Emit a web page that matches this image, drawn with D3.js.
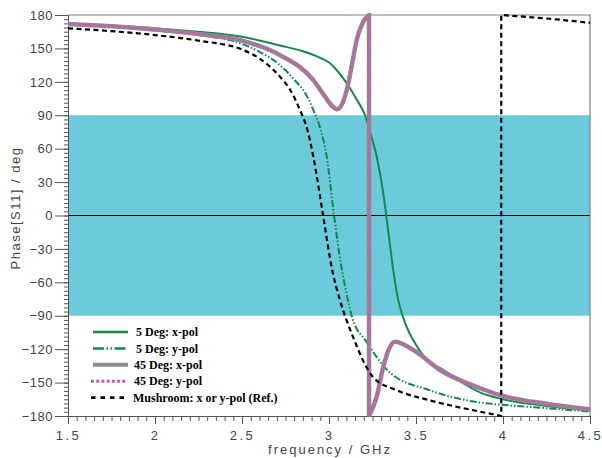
<!DOCTYPE html>
<html>
<head>
<meta charset="utf-8">
<script src="https://cdn.jsdelivr.net/npm/d3@7"></script>
<style>
  body { margin: 0; background: #fff; }
  .tick text { font-family: "Liberation Sans", sans-serif; font-size: 13px; fill: #444; }
  .legend text { font-family: "Liberation Serif", serif; font-size: 12px; font-weight: bold; fill: #000; }
</style>
</head>
<body>
<svg width="602" height="458"></svg>
<script>
// 5 Deg: x-pol
var fX5 = [1.5, 1.75, 2.0, 2.25, 2.5, 2.718, 2.85, 2.95, 3.006, 3.05, 3.102, 3.16, 3.207, 3.24, 3.274, 3.309, 3.347, 3.37, 3.398, 3.425, 3.52, 3.68, 3.87, 4.0, 4.25, 4.5];
var vX5 = [172, 170.5, 168, 165, 160.5, 152.6, 147.5, 141.5, 136.6, 129.5, 118.7, 104, 90, 73, 53, 23, -22, -50, -76, -91, -121, -141, -159, -165, -171, -175];
// 5 Deg: y-pol
var fY5 = [1.5, 1.75, 2.0, 2.25, 2.5, 2.6, 2.718, 2.8, 2.87, 2.91, 2.95, 2.987, 3.029, 3.07, 3.109, 3.13, 3.218, 3.35, 3.58, 3.87, 4.0, 4.25, 4.5];
var vY5 = [172, 169.5, 166, 162, 154, 147, 135, 122, 108, 94.7, 78, 52.8, 0, -45, -76, -90, -114, -141, -157, -168, -170, -173, -176];
// 45 Deg: x-pol and y-pol (same curve)
var f45 = [1.5, 1.75, 2.0, 2.25, 2.5, 2.718, 2.91, 2.98, 3.02, 3.046, 3.075, 3.102, 3.13, 3.159, 3.197, 3.23, 3.23, 3.274, 3.312, 3.351, 3.379, 3.485, 3.638, 3.868, 4.0, 4.25, 4.5];
var v45 = [172, 170, 167, 163, 157, 144, 121.6, 106, 98, 95.3, 100, 112.7, 133.6, 157.6, 174, 180, -180, -162.7, -135.8, -117.8, -113.3, -120.8, -138.7, -155.1, -162, -169, -174];
// Mushroom: x or y-pol (Ref.)
var fM = [1.5, 1.75, 2.0, 2.25, 2.5, 2.6, 2.718, 2.78, 2.833, 2.87, 2.91, 2.966, 3.02, 3.063, 3.138, 3.253, 3.391, 3.58, 3.868, 3.99, 3.99, 4.12, 4.31, 4.5];
var vM = [168, 165.5, 162, 157, 149, 141, 124.6, 112, 94.7, 80, 52.8, 0, -50, -76, -109, -145, -157, -166, -176.1, -180, 180, 178.5, 176, 173];

var xTicks = [1.5, 2, 2.5, 3, 3.5, 4, 4.5];
var yTicks = [-180, -150, -120, -90, -60, -30, 0, 30, 60, 90, 120, 150, 180];
var legendLabels = ["5 Deg: x-pol", "5 Deg: y-pol", "45 Deg: x-pol", "45 Deg: y-pol", "Mushroom: x or y-pol (Ref.)"];

var svg = d3.select("svg");
var pLeft = 68, pRight = 590, pTop = 15, pBottom = 416;

var x = d3.scaleLinear().domain([1.5, 4.5]).range([pLeft, pRight]);
var y = d3.scaleLinear().domain([-180, 180]).range([pBottom, pTop]);

svg.append("clipPath").attr("id", "plot")
  .append("rect").attr("x", pLeft).attr("y", pTop - 2).attr("width", pRight - pLeft).attr("height", pBottom - pTop + 4);

// cyan band -90..90
svg.append("rect")
    .attr("x", pLeft).attr("width", pRight - pLeft)
    .attr("y", y(90)).attr("height", y(-90) - y(90))
    .style("fill", "#6ccadb");

svg.append("line")
    .attr("x1", pLeft).attr("x2", pRight).attr("y1", y(0)).attr("y2", y(0))
    .style("stroke", "#000").style("stroke-width", 1);

// frame top / right
svg.append("path")
    .attr("d", "M" + pLeft + "," + pTop + "H" + pRight + "V" + pBottom)
    .style("fill", "none").style("stroke", "#808080").style("stroke-width", 1.2);

// axes
function styleAxis(g) {
  g.selectAll(".domain").style("stroke", "#555");
  g.selectAll(".tick line").style("stroke", "#555");
}
svg.append("g").attr("transform", "translate(0," + pBottom + ")")
    .call(d3.axisBottom(x).tickValues(d3.range(1.5, 4.5001, 0.05)).tickSize(5).tickFormat(""))
    .call(styleAxis);
svg.append("g").attr("transform", "translate(0," + pBottom + ")")
    .call(d3.axisBottom(x).tickValues(xTicks).tickSize(8).tickSizeOuter(0).tickPadding(7)
      .tickFormat(function(d) { return d3.format("")(d); }))
    .call(styleAxis)
    .selectAll("text").style("letter-spacing", "2.5px");
svg.append("g").attr("transform", "translate(" + pLeft + ",0)")
    .call(d3.axisLeft(y).tickValues(d3.range(-180, 180.001, 3.75)).tickSize(4).tickFormat(""))
    .call(styleAxis);
svg.append("g").attr("transform", "translate(" + pLeft + ",0)")
    .call(d3.axisLeft(y).tickValues(yTicks).tickSize(13).tickSizeOuter(0).tickPadding(2))
    .call(styleAxis)
    .selectAll("text").style("letter-spacing", "0.5px");

svg.append("text")
    .attr("x", 330).attr("y", 454)
    .attr("text-anchor", "middle")
    .style("font-family", "Liberation Sans, sans-serif").style("font-size", "13px")
    .style("letter-spacing", "2px").style("fill", "#444")
    .text("frequency / GHz");
svg.append("text")
    .attr("transform", "translate(20,208) rotate(-90)")
    .attr("text-anchor", "middle")
    .style("font-family", "Liberation Sans, sans-serif").style("font-size", "13px")
    .style("letter-spacing", "1.5px").style("fill", "#444")
    .text("Phase[S11] / deg");

// curves: monotone pieces, joined straight where the phase wraps
var line = d3.line().x(function(d) { return x(d[0]); }).y(function(d) { return y(d[1]); })
    .curve(d3.curveMonotoneX);
function wrappedPath(fs, vs) {
  var segs = [[]];
  fs.forEach(function(f, i) {
    if (i > 0 && f === fs[i - 1]) segs.push([]);
    segs[segs.length - 1].push([f, vs[i]]);
  });
  return segs.map(function(s, i) {
    var p = line(s);
    return i ? "L" + p.slice(1) : p;
  }).join("");
}

var series = [
  { f: fX5, v: vX5, stroke: "#16894a", width: 2, dash: null },
  { f: fY5, v: vY5, stroke: "#16894a", width: 2, dash: "7,2,1.5,2,1.5,2" },
  { f: f45, v: v45, stroke: "#8c8c8c", width: 4.5, dash: null },
  { f: f45, v: v45, stroke: "#c95db3", width: 2.8, dash: "3,2" },
  { f: fM, v: vM, stroke: "#000", width: 2.2, dash: "5,3.5" }
];

var plot = svg.append("g").attr("clip-path", "url(#plot)");
plot.selectAll(".curve")
  .data(series)
  .enter().append("path")
    .attr("class", "curve")
    .attr("d", function(d) { return wrappedPath(d.f, d.v); })
    .style("fill", "none")
    .style("stroke", function(d) { return d.stroke; })
    .style("stroke-width", function(d) { return d.width; })
    .style("stroke-dasharray", function(d) { return d.dash; });

// legend
var legend = svg.selectAll(".legend")
    .data(series)
  .enter().append("g")
    .attr("class", "legend")
    .attr("transform", function(d, i) { return "translate(0," + (332 + i * 16.4) + ")"; });

legend.append("line")
    .attr("x1", function(d, i) { return i > 2 ? 91 : 93; })
    .attr("x2", function(d, i) { return i > 2 ? 127 : 128; })
    .style("stroke", function(d) { return d.stroke; })
    .style("stroke-width", function(d, i) { return i === 2 ? 4 : (i === 3 ? 3 : d.width + 0.5); })
    .style("stroke-dasharray", function(d, i) {
      return i === 1 ? "11,2.5,1.5,2.5,1.5,2.5" : (i === 3 ? "3,2.2" : (i === 4 ? "4.5,5" : d.dash));
    });

legend.append("text")
    .attr("x", function(d, i) { return i < 2 ? 136 : (i < 4 ? 134 : 133); })
    .attr("dy", "0.35em")
    .text(function(d, i) { return legendLabels[i]; });
</script>
</body>
</html>
